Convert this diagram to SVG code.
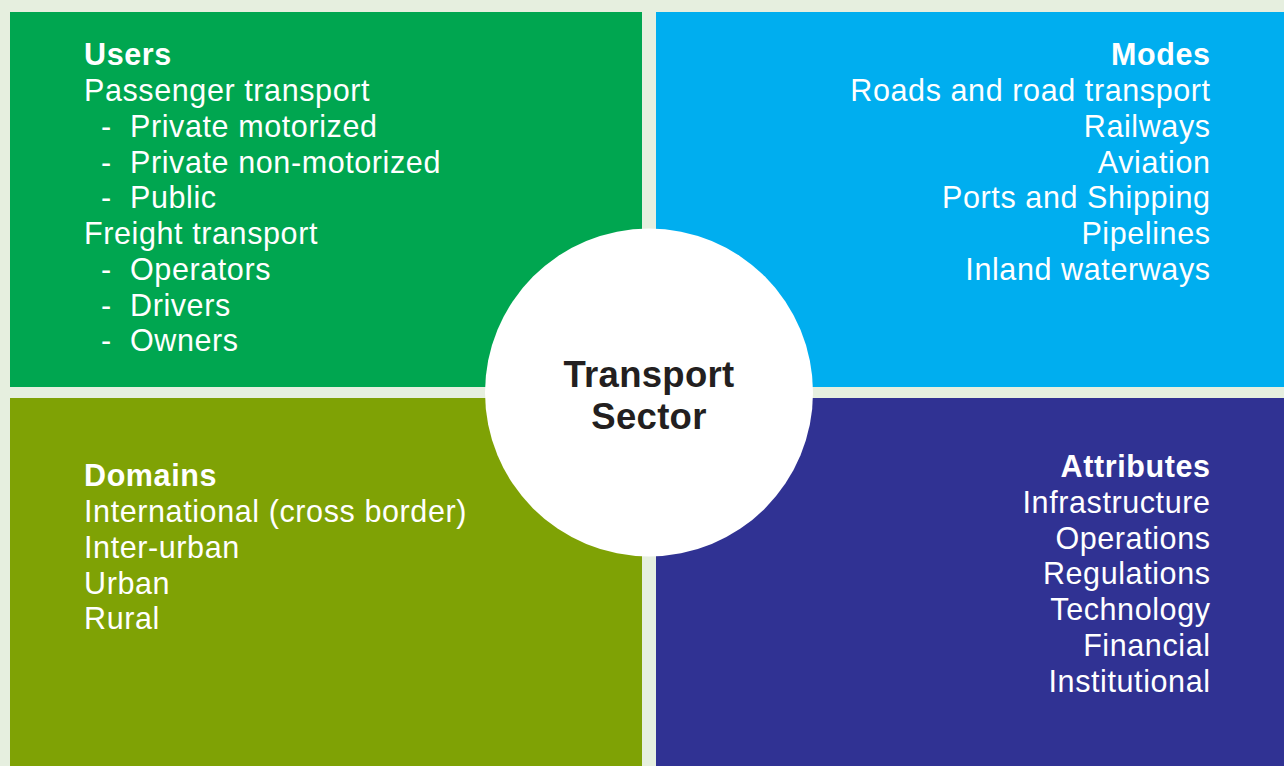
<svg xmlns="http://www.w3.org/2000/svg" width="1284" height="766" viewBox="0 0 1284 766">
<style>
text{font-family:"Liberation Sans",Arial,Helvetica,sans-serif;fill:#ffffff;font-size:30.5px;letter-spacing:0.6px}
.h{font-weight:bold}
.r{text-anchor:end}
.c{font-weight:bold;font-size:36.5px;fill:#231f20;text-anchor:middle;letter-spacing:0.3px}
</style>
<rect x="0" y="0" width="1284" height="766" fill="#e6efdf"/>
<g id="users">
<rect x="10" y="12" width="632" height="375" fill="#00a650"/>
<text x="84" y="65" class="h">Users</text>
<text x="84" y="101">Passenger transport</text>
<text y="137"><tspan x="101">-</tspan><tspan x="130">Private motorized</tspan></text>
<text y="173"><tspan x="101">-</tspan><tspan x="130">Private non-motorized</tspan></text>
<text y="208"><tspan x="101">-</tspan><tspan x="130">Public</tspan></text>
<text x="84" y="244">Freight transport</text>
<text y="280"><tspan x="101">-</tspan><tspan x="130">Operators</tspan></text>
<text y="316"><tspan x="101">-</tspan><tspan x="130">Drivers</tspan></text>
<text y="351"><tspan x="101">-</tspan><tspan x="130">Owners</tspan></text>
</g>
<g id="modes">
<rect x="656" y="12" width="628" height="375" fill="#00aeef"/>
<text x="1210.6" y="65" class="h r">Modes</text>
<text x="1210.6" y="101" class="r">Roads and road transport</text>
<text x="1210.6" y="137" class="r">Railways</text>
<text x="1210.6" y="173" class="r">Aviation</text>
<text x="1210.6" y="208" class="r">Ports and Shipping</text>
<text x="1210.6" y="244" class="r">Pipelines</text>
<text x="1210.6" y="280" class="r">Inland waterways</text>
</g>
<g id="domains">
<rect x="10" y="398" width="632" height="368" fill="#7fa205"/>
<text x="84" y="486" class="h">Domains</text>
<text x="84" y="522">International (cross border)</text>
<text x="84" y="558">Inter-urban</text>
<text x="84" y="594">Urban</text>
<text x="84" y="629">Rural</text>
</g>
<g id="attributes">
<rect x="656" y="398" width="628" height="368" fill="#303293"/>
<text x="1210.6" y="477" class="h r">Attributes</text>
<text x="1210.6" y="513" class="r">Infrastructure</text>
<text x="1210.6" y="549" class="r">Operations</text>
<text x="1210.6" y="584" class="r">Regulations</text>
<text x="1210.6" y="620" class="r">Technology</text>
<text x="1210.6" y="656" class="r">Financial</text>
<text x="1210.6" y="692" class="r">Institutional</text>
</g>
<g id="transport-sector">
<circle cx="649" cy="392.5" r="164" fill="#ffffff"/>
<text x="649" y="387" class="c">Transport</text>
<text x="649" y="429" class="c">Sector</text>
</g>
<g id="connectors"></g>
</svg>
